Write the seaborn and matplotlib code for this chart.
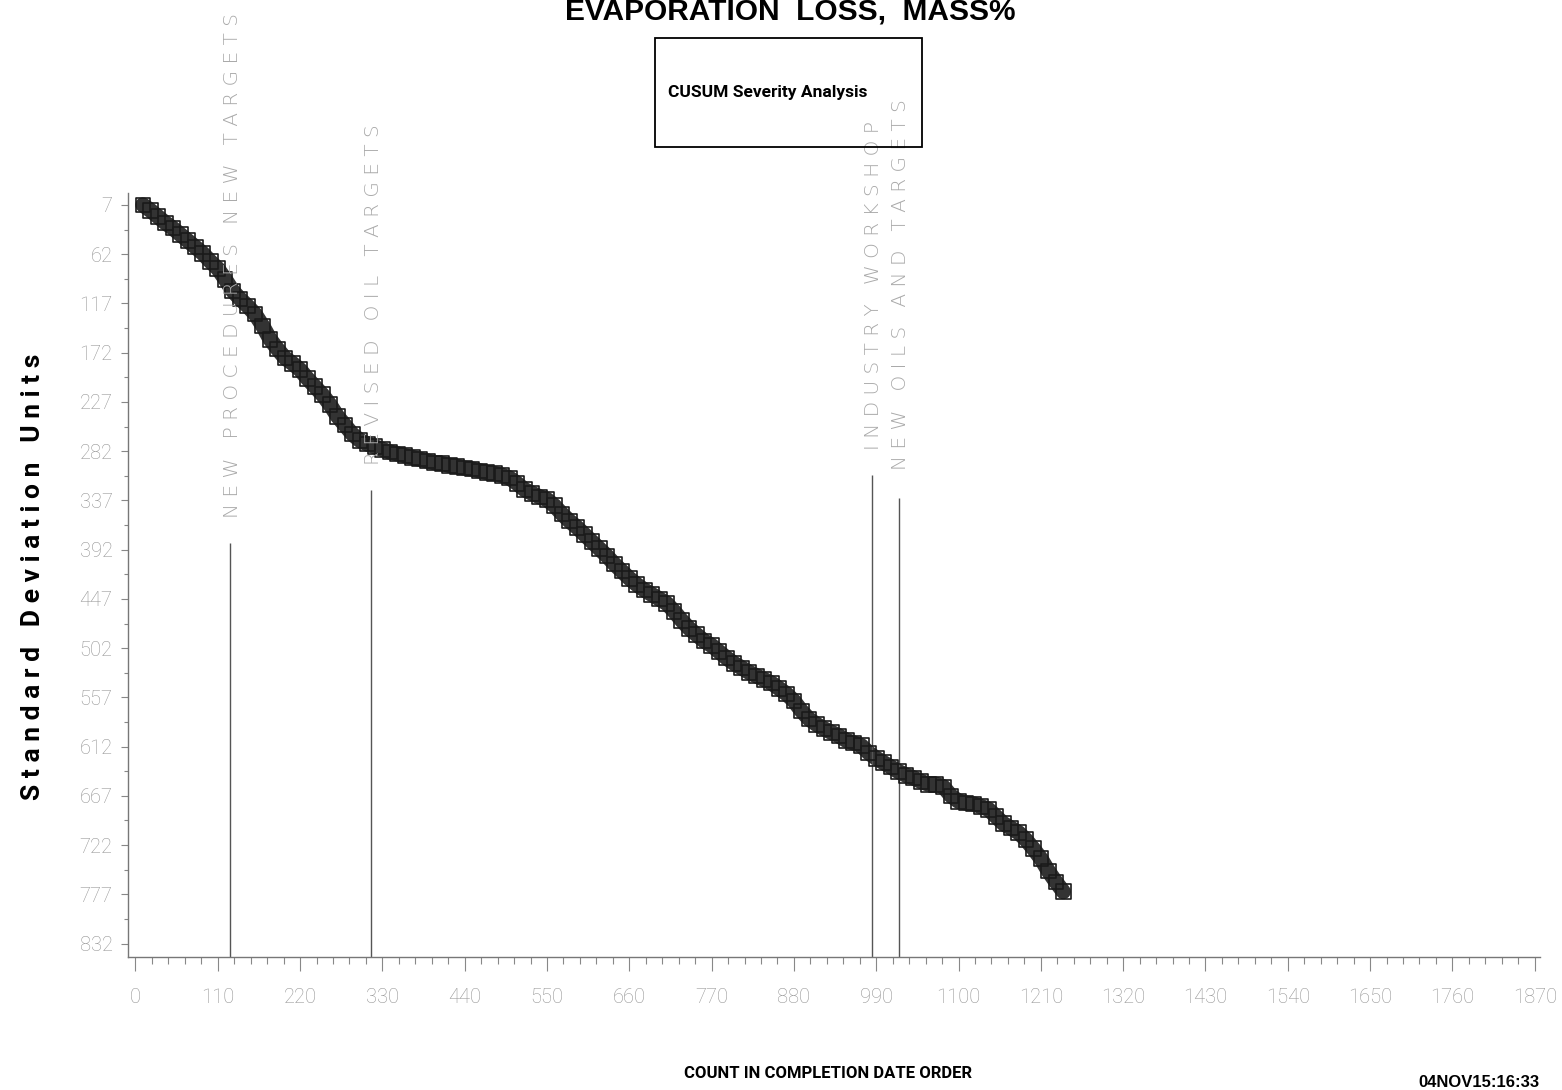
import numpy as np
import pandas as pd
import matplotlib
matplotlib.use("Agg")
import matplotlib.pyplot as plt
import seaborn as sns

# =========================
# DATA
# =========================

# count in completion date order, read every 10 tests
count = np.arange(10, 1241, 10)

# cusum, standard deviation units (axis is reversed)
cusum = [
    7, 13, 20, 27, 33, 40, 47, 54, 61, 70,
    78, 90, 103, 112, 120, 129, 142, 157, 168, 178,
    184, 191, 201, 210, 219, 230, 243, 253, 263, 270,
    274, 277, 280, 283, 285, 287, 289, 291, 293, 295,
    296, 298, 299, 301, 302, 304, 306, 307, 309, 312,
    318, 325, 329, 333, 336, 343, 352, 360, 367, 375,
    383, 391, 399, 408, 416, 424, 431, 437, 442, 447,
    452, 461, 471, 480, 487, 494, 499, 506, 513, 519,
    524, 529, 533, 537, 541, 547, 553, 561, 572, 581,
    587, 592, 596, 600, 605, 608, 611, 619, 625, 630,
    635, 640, 644, 647, 651, 654, 654, 657, 667, 673,
    675, 676, 679, 682, 690, 698, 703, 708, 716, 726,
    737, 751, 763, 774,
]

# events marked on the chart
event_names = [
    "N E W   P R O C E D U R E S   N E W   T A R G E T S",
    "R E V I S E D   O I L   T A R G E T S",
    "I N D U S T R Y   W O R K S H O P",
    "N E W   O I L S   A N D   T A R G E T S",
]
event_count = [127, 315, 984, 1020]
event_top = [385, 325, 309, 334]

x_ticks = np.arange(0, 1871, 110)
y_ticks = np.arange(7, 833, 55)

df = pd.DataFrame({"count": count, "cusum": cusum})

# =========================
# STYLE
# =========================

sns.set_style("white")
NARROW = ["Roboto", "DejaVu Sans"]
BOLD = ["Liberation Sans", "DejaVu Sans"]
plt.rcParams["font.family"] = NARROW

fig = plt.figure(figsize=(15.62, 10.9), dpi=100)
ax = fig.add_axes([0.0819, 0.122, 0.904, 0.701])

# thick band under the squares, like the overplotted markers
sns.lineplot(data=df, x="count", y="cusum", color="#333333",
             linewidth=11, ax=ax, legend=False, zorder=2)
sns.scatterplot(
    data=df,
    x="count",
    y="cusum",
    marker="s",
    s=110,
    facecolor="none",
    edgecolor="#1a1a1a",
    linewidth=1.2,
    ax=ax,
    legend=False,
    zorder=3,
)

# event lines
y_bottom = 847
ax.vlines(event_count, event_top, y_bottom, color="#555555", linewidth=1)

label_base = [357, 297, 281, 303]
for name, x, yb in zip(event_names, event_count, label_base):
    ax.text(
        x + 3, yb, name,
        rotation=90, ha="center", va="bottom",
        fontsize=14.5, color="#aaaaaa",
        family=["DejaVu Sans"], fontweight="light",
        clip_on=False,
    )

# axes
ax.set_xlim(-10, 1877)
ax.set_ylim(847, -6.4)
ax.set_xticks(x_ticks)
ax.set_xticks(np.arange(0, 1871, 22), minor=True)
ax.set_yticks(y_ticks)
ax.set_yticks(np.arange(34.5, 832, 55), minor=True)

for side in ["top", "right"]:
    ax.spines[side].set_visible(False)
for side in ["left", "bottom"]:
    ax.spines[side].set_color("#777777")
    ax.spines[side].set_linewidth(1)

ax.tick_params(axis="x", which="both", bottom=True, direction="out")
ax.tick_params(axis="y", which="both", left=True, direction="out")
ax.tick_params(axis="x", which="major", length=10, width=0.8, color="#888888",
               pad=12, labelsize=14.5, labelcolor="#949494")
ax.tick_params(axis="x", which="minor", length=5, width=0.8, color="#888888")
ax.tick_params(axis="y", which="major", length=5, width=0.8, color="#888888",
               pad=6, labelsize=14.5, labelcolor="#949494")
ax.tick_params(axis="y", which="minor", length=3, width=0.8, color="#888888")
for lab in ax.get_xticklabels() + ax.get_yticklabels():
    lab.set_fontweight("light")

ax.set_xlabel("")
ax.set_ylabel("")

# =========================
# TEXTS
# =========================

fig.text(790 / 1562, 1 - 19 / 1090, "EVAPORATION  LOSS,  MASS%",
         ha="center", va="baseline", fontsize=21.5, fontweight="bold",
         family=BOLD, color="black")

fig.text(768 / 1562, 1 - 93 / 1090, "CUSUM Severity Analysis",
         ha="center", va="center", fontsize=12.5, fontweight="bold",
         color="black")
box = plt.Rectangle((655 / 1562, 1 - 147 / 1090), 267 / 1562, 109 / 1090,
                    transform=fig.transFigure, fill=False,
                    edgecolor="black", linewidth=1.3)
fig.patches.append(box)

fig.text(33 / 1562, 1 - 577 / 1090,
         "S t a n d a r d   D e v i a t i o n   U n i t s",
         rotation=90, ha="center", va="center", fontsize=19,
         fontweight="bold", color="black")

fig.text(828 / 1562, 1 - 1073 / 1090, "COUNT IN COMPLETION DATE ORDER",
         ha="center", va="center", fontsize=12, fontweight="bold",
         color="black")

fig.text(1418 / 1562, 1 - 1087 / 1090, "04NOV15:16:33",
         ha="left", va="baseline", fontsize=12, fontweight="bold",
         family=BOLD, color="black")

fig.savefig("out.png", dpi=100, facecolor="white")
